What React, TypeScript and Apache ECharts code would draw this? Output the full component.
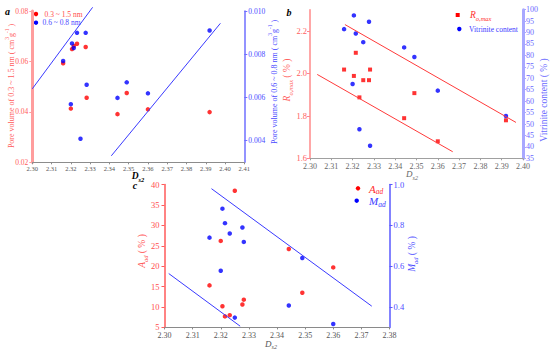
import React, { useEffect, useRef } from "react";
import * as echarts from "echarts";

// ---- data (D_s2 of each coal sample and the measured properties) ----
const dsX = [2.316, 2.32, 2.3206, 2.3215, 2.3232, 2.325, 2.3277, 2.3282, 2.3442, 2.349, 2.36, 2.392];
const poreMicro = [0.0593, 0.0413, 0.0649, 0.0661, 0.067, null, 0.0657, 0.0456, 0.0391, 0.0475, 0.041, 0.0399];
const poreUltra = [0.00769, 0.00569, 0.0085, 0.00829, 0.00899, 0.00409, 0.00899, 0.00659, 0.00598, 0.0067, 0.00619, 0.0091];
const roMax = [2.018, null, 1.988, 2.097, 1.887, 1.968, 1.968, 2.018, 1.789, 1.907, 1.68, 1.779];
const vitrinite = [91.5, 67.5, 97.5, 89.6, 47.7, 85.8, 94.7, 40.5, 83.5, 79.3, 64.6, 53.5];
const ashAd = [15.3, 26.2, 10.2, 7.7, 8.0, 38.5, 10.6, 11.8, 24.2, 13.5, 19.7, null];
const moistAd = [0.74, 0.578, 0.882, 0.811, 0.76, 0.348, 0.79, 0.719, 0.407, 0.64, 0.317, null];

// trend / envelope lines (end points)
const fitA1X = [2.3, 2.3313];
const fitA1Y = [0.0064, 0.01017];
const fitA2X = [2.341, 2.3976];
const fitA2Y = [0.0033, 0.00943];
const fitB1X = [2.3164, 2.3967];
const fitB1Y = [2.23, 1.769];
const fitB2X = [2.3034, 2.367];
const fitB2Y = [1.995, 1.631];
const fitC1X = [2.3167, 2.3737];
const fitC1Y = [39.0, 10.2];
const fitC2X = [2.3015, 2.3269];
const fitC2Y = [18.2, 5.3];

// tick labels
const xTicksA = [2.3, 2.31, 2.32, 2.33, 2.34, 2.35, 2.36, 2.37, 2.38, 2.39, 2.4, 2.41];
const xTicksB = [2.3, 2.31, 2.32, 2.33, 2.34, 2.35, 2.36, 2.37, 2.38, 2.39, 2.4];
const xTicksC = [2.3, 2.31, 2.32, 2.33, 2.34, 2.35, 2.36, 2.37, 2.38];
const yTicksALeft = [0.02, 0.04, 0.06, 0.08];
const yTicksARight = [0.004, 0.006, 0.008, 0.01];
const yTicksBLeft = [1.6, 1.8, 2.0, 2.2];
const yTicksBRight = [35, 40, 45, 50, 55, 60, 65, 70, 75, 80, 85, 90, 95, 100];
const yTicksCLeft = [5, 10, 15, 20, 25, 30, 35, 40];
const yTicksCRight = [0.4, 0.6, 0.8, 1.0];

const serif = '"Liberation Serif", "Times New Roman", Times, serif';

const pairs = (xs: number[], ys: (number | null)[]) =>
  xs.map((x, i) => [x, ys[i]]).filter((p) => p[1] !== null && p[1] !== undefined);

function valAxis(o: any) {
  return {
    type: "value",
    gridIndex: o.grid,
    position: o.pos,
    min: o.min,
    max: o.max,
    axisLine: { show: true, onZero: false, lineStyle: { color: o.line, width: o.lw } },
    axisTick: {
      show: true,
      length: o.tl ?? 3,
      customValues: o.ticks,
      lineStyle: { color: o.tickColor ?? o.line, width: 1 },
    },
    axisLabel: {
      customValues: o.ticks,
      color: o.label,
      fontSize: o.fs,
      fontFamily: serif,
      margin: o.margin,
      formatter: (v: number) => Number(v).toFixed(o.dec),
    },
    splitLine: { show: false },
  };
}

function scatter(name: string, xi: number, yi: number, data: any[], color: string, symbol = "circle") {
  return {
    name,
    type: "scatter",
    xAxisIndex: xi,
    yAxisIndex: yi,
    data,
    symbol,
    symbolSize: symbol === "rect" ? 4 : 4.5,
    itemStyle: { color },
    silent: true,
  };
}

function fitLine(xi: number, yi: number, xs: number[], ys: number[], color: string) {
  return {
    type: "line",
    xAxisIndex: xi,
    yAxisIndex: yi,
    data: pairs(xs, ys),
    symbol: "none",
    showSymbol: false,
    clip: false,
    silent: true,
    lineStyle: { color, width: 1 },
  };
}

const base = (size: number, color: string, extra: any = {}) => ({
  fontSize: size,
  fontFamily: serif,
  fill: color,
  color,
  lineHeight: 13,
  ...extra,
});

function richText(x: number, y: number, text: string, rich: any, rotation = 0, align = "center") {
  return {
    type: "text",
    x,
    y,
    rotation,
    silent: true,
    style: { text, rich, align, verticalAlign: "middle", fontFamily: serif },
  };
}

function subRich(size: number, color: string, italicMain: boolean, weight = "normal") {
  return {
    m: base(size, color, { fontStyle: italicMain ? "italic" : "normal", fontWeight: weight }),
    s: base(size * 0.68, color, { fontStyle: "italic", fontWeight: weight, verticalAlign: "bottom", lineHeight: 10 }),
    n: base(size, color),
    u: base(size * 0.68, color, { verticalAlign: "top", lineHeight: 9 }),
  };
}

export default function App() {
  const ref = useRef<HTMLDivElement>(null);
  useEffect(() => {
    if (!ref.current) return;
    const chart = echarts.init(ref.current, null, { renderer: "svg" });
    const RED = "#ff0000";
    const BLUE = "#0000ff";
    const option: any = {
      animation: false,
      backgroundColor: "#ffffff",
      grid: [
        { left: 32.3, top: 11, width: 212, height: 151.3 },
        { left: 310, top: 9.7, width: 213, height: 148.6 },
        { left: 164.5, top: 184.6, width: 225, height: 142.8 },
      ],
      xAxis: [
        valAxis({ grid: 0, pos: "bottom", min: 2.3, max: 2.41, ticks: xTicksA, line: "#8c8c8c", lw: 1, tl: 2, label: "#555555", fs: 6.5, margin: 3, dec: 2 }),
        valAxis({ grid: 1, pos: "bottom", min: 2.3, max: 2.4, ticks: xTicksB, line: "#a0a0a0", lw: 1, tl: 2, label: "#666666", fs: 8, margin: 4, dec: 2 }),
        valAxis({ grid: 2, pos: "bottom", min: 2.3, max: 2.38, ticks: xTicksC, line: "#8a8a8a", lw: 1, tl: 2, label: "#555555", fs: 8, margin: 4.5, dec: 2 }),
      ],
      yAxis: [
        valAxis({ grid: 0, pos: "left", min: 0.02, max: 0.08, ticks: yTicksALeft, line: "#ff9d9d", lw: 3, label: "#ff5c5c", fs: 7.5, margin: 4, dec: 2 }),
        valAxis({ grid: 0, pos: "right", min: 0.003, max: 0.01, ticks: yTicksARight, line: "#6f6fff", lw: 1.5, label: "#4a4aff", fs: 7.5, margin: 4, dec: 3 }),
        valAxis({ grid: 1, pos: "left", min: 1.6, max: 2.3, ticks: yTicksBLeft, line: "#ff8a8a", lw: 1.5, label: "#ff6060", fs: 8.5, margin: 3, dec: 1 }),
        valAxis({ grid: 1, pos: "right", min: 35, max: 100, ticks: yTicksBRight, line: "#a8a8ff", lw: 3, label: "#6a6aff", fs: 8, margin: 3, dec: 0 }),
        valAxis({ grid: 2, pos: "left", min: 5, max: 40, ticks: yTicksCLeft, line: "#ff5a5a", lw: 1.5, label: "#ff4d4d", fs: 8.5, margin: 5, dec: 0 }),
        valAxis({ grid: 2, pos: "right", min: 0.3, max: 1.0, ticks: yTicksCRight, line: "#5a5aff", lw: 1.5, label: "#4d4dff", fs: 8.5, margin: 4, dec: 1 }),
      ],
      series: [
        scatter("0.3 ~ 1.5 nm", 0, 0, pairs(dsX, poreMicro), RED),
        scatter("0.6 ~ 0.8 nm", 0, 1, pairs(dsX, poreUltra), BLUE),
        fitLine(0, 1, fitA1X, fitA1Y, "#3a3aff"),
        fitLine(0, 1, fitA2X, fitA2Y, "#3a3aff"),
        scatter("Ro,max", 1, 2, pairs(dsX, roMax), RED, "rect"),
        scatter("Vitrinite content", 1, 3, pairs(dsX, vitrinite), BLUE),
        fitLine(1, 2, fitB1X, fitB1Y, "#ff3a3a"),
        fitLine(1, 2, fitB2X, fitB2Y, "#ff3a3a"),
        scatter("Aad", 2, 4, pairs(dsX, ashAd), RED),
        scatter("Mad", 2, 5, pairs(dsX, moistAd), BLUE),
        fitLine(2, 4, fitC1X, fitC1Y, "#3a3aff"),
        fitLine(2, 4, fitC2X, fitC2Y, "#3a3aff"),
      ],
      graphic: [
        // panel letters
        richText(7.5, 11, "{m|a}", subRich(10, "#000", true, "bold")),
        richText(289, 12, "{m|b}", subRich(10, "#000", true, "bold")),
        richText(135, 185, "{m|c}", subRich(10, "#000", true, "bold")),
        // x-axis titles
        richText(138, 175.5, "{m|D}{s|s2}", subRich(9.5, "#000", true, "bold")),
        richText(412, 174, "{m|D}{s|s2}", subRich(9, "#666", true)),
        richText(271, 343.5, "{m|D}{s|s2}", subRich(9, "#555", true)),
        // y-axis titles
        richText(11, 86, "{n|Pore volume of 0.3 ~ 1.5 nm ( cm}{u|3}{n|g}{u|-1}{n| )}", subRich(8, "#ff5c5c", false), Math.PI / 2),
        richText(274, 82, "{n|Pore volume of 0.6 ~ 0.8 nm ( cm}{u|3}{n|g}{u|-1}{n| )}", subRich(8, "#4a4aff", false), Math.PI / 2),
        richText(287, 80, "{m|R}{s|o,max}{n| ( % )}", subRich(9.5, "#ff6060", true), Math.PI / 2),
        richText(543.5, 100, "{n|Vitrinite content ( % )}", subRich(9.5, "#6a6aff", false), Math.PI / 2),
        richText(141.5, 251, "{m|A}{s|ad}{n| ( % )}", subRich(9.5, "#ff4d4d", true), Math.PI / 2),
        richText(411.5, 254, "{m|M}{s|ad}{n| ( % )}", subRich(9.5, "#4d4dff", true), Math.PI / 2),
        // legends
        { type: "circle", silent: true, shape: { cx: 36, cy: 14, r: 2.2 }, style: { fill: RED } },
        richText(44.5, 14, "{n|0.3 ~ 1.5 nm}", subRich(7.5, "#ff4d4d", false), 0, "left"),
        { type: "circle", silent: true, shape: { cx: 36, cy: 22.7, r: 2.2 }, style: { fill: BLUE } },
        richText(42.5, 22.7, "{n|0.6 ~ 0.8 nm}", subRich(7.5, "#4a4aff", false), 0, "left"),
        { type: "rect", silent: true, shape: { x: 455.7, y: 13, width: 4, height: 4 }, style: { fill: RED } },
        richText(470, 15, "{m|R}{s|o,max}", subRich(9.5, "#ff3030", true), 0, "left"),
        { type: "circle", silent: true, shape: { cx: 459.3, cy: 29, r: 2.2 }, style: { fill: BLUE } },
        richText(469, 29, "{n|Vitrinite content}", subRich(7.5, "#3a3aff", false), 0, "left"),
        { type: "circle", silent: true, shape: { cx: 358, cy: 188.3, r: 2.2 }, style: { fill: RED } },
        richText(369, 188.5, "{m|A}{s|ad}", subRich(11, "#ff3030", true), 0, "left"),
        { type: "circle", silent: true, shape: { cx: 356.7, cy: 200.7, r: 2.2 }, style: { fill: BLUE } },
        richText(369, 201, "{m|M}{s|ad}", subRich(11, "#3a3aff", true), 0, "left"),
      ],
    };
    chart.setOption(option);
    return () => chart.dispose();
  }, []);
  return (
    <div
      ref={ref}
      style={{ position: "fixed", left: 0, top: 0, width: 550, height: 350, background: "#fff" }}
    />
  );
}
